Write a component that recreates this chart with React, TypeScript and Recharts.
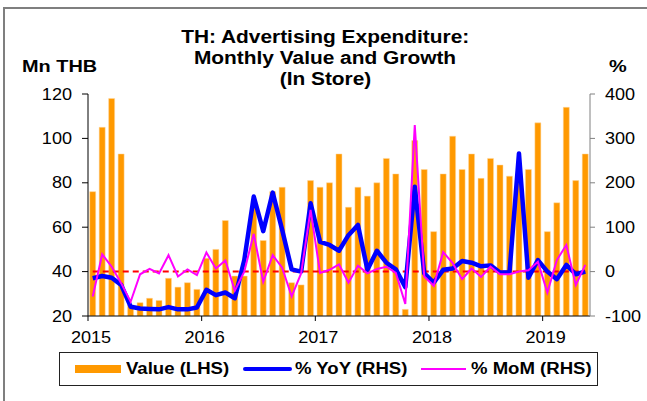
import React from "react";
import {
  ComposedChart,
  Bar,
  Line,
  XAxis,
  YAxis,
  ReferenceLine,
  Legend
} from "recharts";

// months Jan 2015 .. May 2019
const years = ["15","16","17","18","19"];
const monthNames = ["Jan","Feb","Mar","Apr","May","Jun","Jul","Aug","Sep","Oct","Nov","Dec"];
const months = years
  .flatMap(y => monthNames.map(m => `${m}-${y}`))
  .slice(0, 53);

const yearTicks = ["Jan-15","Jan-16","Jan-17","Jan-18","Jan-19"];
const yearLabels: Record<string,string> = {
  "Jan-15":"2015","Jan-16":"2016","Jan-17":"2017","Jan-18":"2018","Jan-19":"2019"
};

// Mn THB
const value = [
  76,105,118,93,25,26,28,27,37,33,35,32,
  46,50,63,38,38,69,54,76,78,35,34,81,
  78,80,93,69,78,74,80,91,84,23,99,86,
  58,84,101,86,93,82,91,88,83,84,86,107,
  58,71,114,81,93
];

// % YoY
const yoy = [
  -15,-10,-14,-30,-79,-83,-84,-85,-80,-85,-85,-81,
  -41,-53,-47,-60,26,169,91,178,94,5,0,154,
  67,60,47,82,105,4,47,20,5,-35,191,-4,
  -25,4,7,24,20,12,14,-2,-2,266,-14,26,
  0,-17,15,-6,0
];

// % MoM
const mom = [
  -56,39,11,-26,-68,-6,6,-4,37,-11,5,-8,
  43,7,25,-43,0,85,-23,37,9,-56,-4,139,
  -3,4,16,-25,13,-4,6,11,-3,-73,330,-11,
  -32,44,19,-17,7,-12,11,-6,-6,0,3,22,
  -47,26,60,-30,15
];

const leftTicks = [20,40,60,80,100,120];
const rightTicks = [-100,0,100,200,300,400];

const data = months.map((m,i)=>({
  month:m,
  value:value[i],
  yoy:yoy[i],
  mom:mom[i]
}));

const W = 647;
const H = 401;
const PLOT_LEFT = 88;
const PLOT_RIGHT = 590;
const BAND = (PLOT_RIGHT - PLOT_LEFT) / months.length;
const FONT = "'Liberation Sans', Arial, sans-serif";
// the source picture is a bit stretched sideways
const SX = 1.13;

const YearTick = (props:any) => {
  const { x, y, payload } = props;
  const bx = x - BAND / 2;
  return (
    <g>
      <line x1={bx} x2={bx} y1={y} y2={y + 5} stroke="#000" strokeWidth={1}/>
      <text
        transform={`translate(${bx + 3},${y + 27}) scale(${SX},1)`}
        textAnchor="middle"
        fontSize={16}
        fill="#000"
      >
        {yearLabels[payload.value]}
      </text>
    </g>
  );
};

const ValueTick = (props:any) => {
  const { x, y, payload, textAnchor } = props;
  return (
    <text
      transform={`translate(${x},${y}) scale(${SX},1)`}
      textAnchor={textAnchor}
      dy={5.5}
      fontSize={16}
      fill="#000"
    >
      {payload.value}
    </text>
  );
};

const stretch = (s:number, origin:string):React.CSSProperties => ({
  display:"inline-block",
  transform:`scaleX(${s})`,
  transformOrigin:origin
});

const renderLegend = () => (
  <div
    style={{
      position:"relative",
      width:539,
      height:34,
      boxSizing:"border-box",
      border:"1px solid #222",
      background:"#fff",
      fontFamily:FONT,
      fontWeight:"bold",
      fontSize:16,
      color:"#000",
      whiteSpace:"nowrap"
    }}
  >
    <div style={{position:"absolute",left:15,top:12,width:46,height:8,background:"#FF9900"}}/>
    <span style={{position:"absolute",left:66,top:7,lineHeight:"18px"}}>
      <span style={stretch(1.16,"left center")}>Value (LHS)</span>
    </span>
    <div style={{position:"absolute",left:183,top:14,width:49,height:4,background:"#0000FF",borderRadius:2}}/>
    <span style={{position:"absolute",left:235,top:7,lineHeight:"18px"}}>
      <span style={stretch(1.16,"left center")}>% YoY (RHS)</span>
    </span>
    <div style={{position:"absolute",left:361,top:15,width:45,height:2,background:"#FF00FF"}}/>
    <span style={{position:"absolute",left:411,top:7,lineHeight:"18px"}}>
      <span style={stretch(1.16,"left center")}>% MoM (RHS)</span>
    </span>
  </div>
);

export default function App(){
  return(
    <div
      style={{
        position:"relative",
        width:W,
        height:H,
        background:"#fff",
        fontFamily:FONT,
        overflow:"hidden"
      }}
    >
      <style>{`body{margin:0}`}</style>

      {/* frame */}
      <div style={{position:"absolute",left:3,top:7,right:-2,bottom:-2,border:"2px solid #7f7f7f"}}/>

      <div
        style={{
          position:"absolute",
          left:0,
          top:27,
          width:650,
          textAlign:"center",
          fontWeight:"bold",
          fontSize:18,
          lineHeight:"21px",
          color:"#000"
        }}
      >
        <span style={stretch(1.16,"center")}>TH: Advertising Expenditure:</span><br/>
        <span style={stretch(1.16,"center")}>Monthly Value and Growth</span><br/>
        <span style={stretch(1.16,"center")}>(In Store)</span>
      </div>
      <div style={{position:"absolute",left:22,top:57,fontWeight:"bold",fontSize:17,color:"#000",whiteSpace:"nowrap"}}>
        <span style={stretch(1.17,"left center")}>Mn THB</span>
      </div>
      <div style={{position:"absolute",left:609,top:57,fontWeight:"bold",fontSize:17,color:"#000"}}>
        <span style={stretch(1.17,"left center")}>%</span>
      </div>

      <ComposedChart
        width={W}
        height={H}
        data={data}
        margin={{top:94,right:0,bottom:55,left:0}}
        barCategoryGap="18%"
        style={{position:"absolute",left:0,top:0}}
      >
        <XAxis
          dataKey="month"
          ticks={yearTicks}
          interval={0}
          tickLine={false}
          tickSize={0}
          tickMargin={0}
          tick={<YearTick/>}
          axisLine={{stroke:"#000"}}
          height={30}
        />
        <YAxis
          yAxisId="left"
          domain={[20,120]}
          ticks={leftTicks}
          width={PLOT_LEFT}
          tickSize={6}
          tickMargin={10}
          axisLine={{stroke:"#000"}}
          tickLine={{stroke:"#000"}}
          tick={<ValueTick/>}
          allowDataOverflow
        />
        <YAxis
          yAxisId="right"
          orientation="right"
          domain={[-100,400]}
          ticks={rightTicks}
          width={W - PLOT_RIGHT}
          tickSize={5}
          tickMargin={10}
          axisLine={{stroke:"#808080"}}
          tickLine={{stroke:"#808080"}}
          tick={<ValueTick/>}
          allowDataOverflow
        />
        <Bar
          yAxisId="left"
          dataKey="value"
          fill="#FF9900"
          stroke="#FFD9A0"
          strokeWidth={0.5}
          isAnimationActive={false}
        />
        <ReferenceLine
          yAxisId="right"
          segment={[{x:months[0],y:0},{x:months[months.length-1],y:0}]}
          stroke="#FF0000"
          strokeWidth={2}
          strokeDasharray="6 4"
        />
        <Line
          yAxisId="right"
          dataKey="yoy"
          type="linear"
          stroke="#0000FF"
          strokeWidth={4.5}
          dot={false}
          strokeLinejoin="round"
          isAnimationActive={false}
        />
        <Line
          yAxisId="right"
          dataKey="mom"
          type="linear"
          stroke="#FF00FF"
          strokeWidth={2}
          dot={false}
          isAnimationActive={false}
        />
        <Legend
          verticalAlign="middle"
          align="center"
          layout="horizontal"
          content={renderLegend}
          wrapperStyle={{left:59,top:352,width:539,height:34}}
        />
      </ComposedChart>
    </div>
  );
}
